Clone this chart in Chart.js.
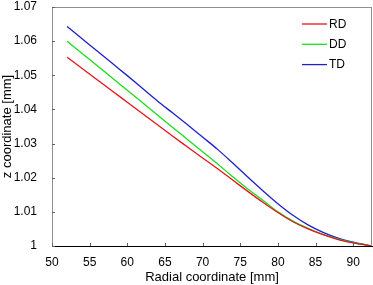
<!DOCTYPE html>
<html>
<head>
<meta charset="utf-8">
<script src="https://cdn.jsdelivr.net/npm/chart.js@4"></script>
<style>
  html, body { margin: 0; padding: 0; background: #fff; }
  #wrap { width: 373px; height: 285px; }
</style>
</head>
<body>
<div id="wrap"><canvas id="chart" width="373" height="285"></canvas></div>
<script>
// radial coordinate [mm]
var radial = [52, 54, 56, 58, 60, 62, 64, 66, 68, 70, 72, 74, 76, 78, 80, 82, 84, 86, 88, 90, 92, 92.5];
// z coordinate [mm] per direction
var rd = [1.0553, 1.0520, 1.0487, 1.0454, 1.0421, 1.0388, 1.0355, 1.0322, 1.0290, 1.0258, 1.0226, 1.0193,
          1.0160, 1.0128, 1.0098, 1.0071, 1.0050, 1.0033, 1.0019, 1.0009, 1.0002, 1.0000];
var dd = [1.0600, 1.0564, 1.0528, 1.0492, 1.0456, 1.0420, 1.0384, 1.0348, 1.0312, 1.0276, 1.0240, 1.0203,
          1.0167, 1.0134, 1.0100, 1.0073, 1.0052, 1.0034, 1.0020, 1.0010, 1.0002, 1.0000];
var td = [1.0643, 1.0607, 1.0571, 1.0535, 1.0499, 1.0462, 1.0425, 1.0390, 1.0355, 1.0319, 1.0283, 1.0243,
          1.0202, 1.0162, 1.0124, 1.0090, 1.0062, 1.0040, 1.0023, 1.0011, 1.0002, 1.0000];
var seriesNames = ["RD", "DD", "TD"];
var seriesColors = ["#e8141e", "#18e018", "#2020c8"];

function pts(ys) {
  return radial.map(function (x, i) { return { x: x, y: ys[i] }; });
}

var font = "'Liberation Sans', Arial, sans-serif";
Chart.defaults.font.family = font;
Chart.defaults.font.size = 12;
Chart.defaults.color = "#000";

// box, inward ticks and legend inside the plot
var decor = {
  id: "decor",
  afterDraw: function (chart) {
    var c = chart.ctx, a = chart.chartArea;
    var xs = chart.scales.x, ys = chart.scales.y;
    c.save();
    c.lineWidth = 1;
    c.strokeStyle = "#909090";
    c.beginPath();
    c.moveTo(a.left, a.top + 0.5); c.lineTo(a.right, a.top + 0.5);
    c.moveTo(a.right - 0.5, a.top); c.lineTo(a.right - 0.5, a.bottom);
    c.stroke();
    c.strokeStyle = "#606060";
    c.beginPath();
    xs.ticks.forEach(function (t) {
      var px = Math.round(xs.getPixelForValue(t.value)) + 0.5;
      c.moveTo(px, a.bottom); c.lineTo(px, a.bottom - 3);
    });
    ys.ticks.forEach(function (t) {
      var py = Math.round(ys.getPixelForValue(t.value)) + 0.5;
      c.moveTo(a.left, py); c.lineTo(a.left + 3, py);
    });
    c.stroke();
    // legend
    c.font = "12px " + font;
    c.textBaseline = "middle";
    chart.data.datasets.forEach(function (ds, i) {
      var y = 24 + i * 20.3;
      c.strokeStyle = ds.borderColor;
      c.lineWidth = 1.3;
      c.beginPath();
      c.moveTo(302, y); c.lineTo(327, y);
      c.stroke();
      c.fillStyle = "#000";
      c.fillText(ds.label, 329, y + 0.5);
    });
    c.restore();
  }
};

new Chart(document.getElementById("chart"), {
  type: "line",
  data: {
    datasets: [rd, dd, td].map(function (ys, i) {
      return {
        label: seriesNames[i],
        data: pts(ys),
        borderColor: seriesColors[i],
        borderWidth: 1.3,
        pointRadius: 0,
        cubicInterpolationMode: "monotone",
        fill: false
      };
    })
  },
  options: {
    responsive: false,
    animation: false,
    layout: { padding: { top: 7, right: 1, left: 0, bottom: 0 } },
    plugins: { legend: { display: false }, tooltip: { enabled: false } },
    scales: {
      x: {
        type: "linear",
        min: 50,
        max: 92.5,
        grid: { display: false, drawTicks: false },
        border: { color: "#000", width: 1 },
        ticks: { stepSize: 5, includeBounds: false, padding: 9, maxRotation: 0 },
        title: { display: true, text: "Radial coordinate [mm]", font: { size: 13 }, padding: { top: 1, bottom: 0 } },
        afterFit: function (s) { s.height = 39; s.paddingLeft = 0; s.paddingRight = 0; }
      },
      y: {
        min: 1,
        max: 1.07,
        grid: { display: false, drawTicks: false },
        border: { color: "#909090", width: 1 },
        ticks: {
          stepSize: 0.01,
          padding: 15,
          callback: function (v) { return String(+v.toFixed(2)); }
        },
        title: { display: true, text: "z coordinate [mm]", font: { size: 13 }, padding: { top: 0, bottom: 0 } },
        afterFit: function (s) { s.width = 52; s.paddingTop = 0; s.paddingBottom = 0; }
      }
    }
  },
  plugins: [decor]
});
</script>
</body>
</html>
